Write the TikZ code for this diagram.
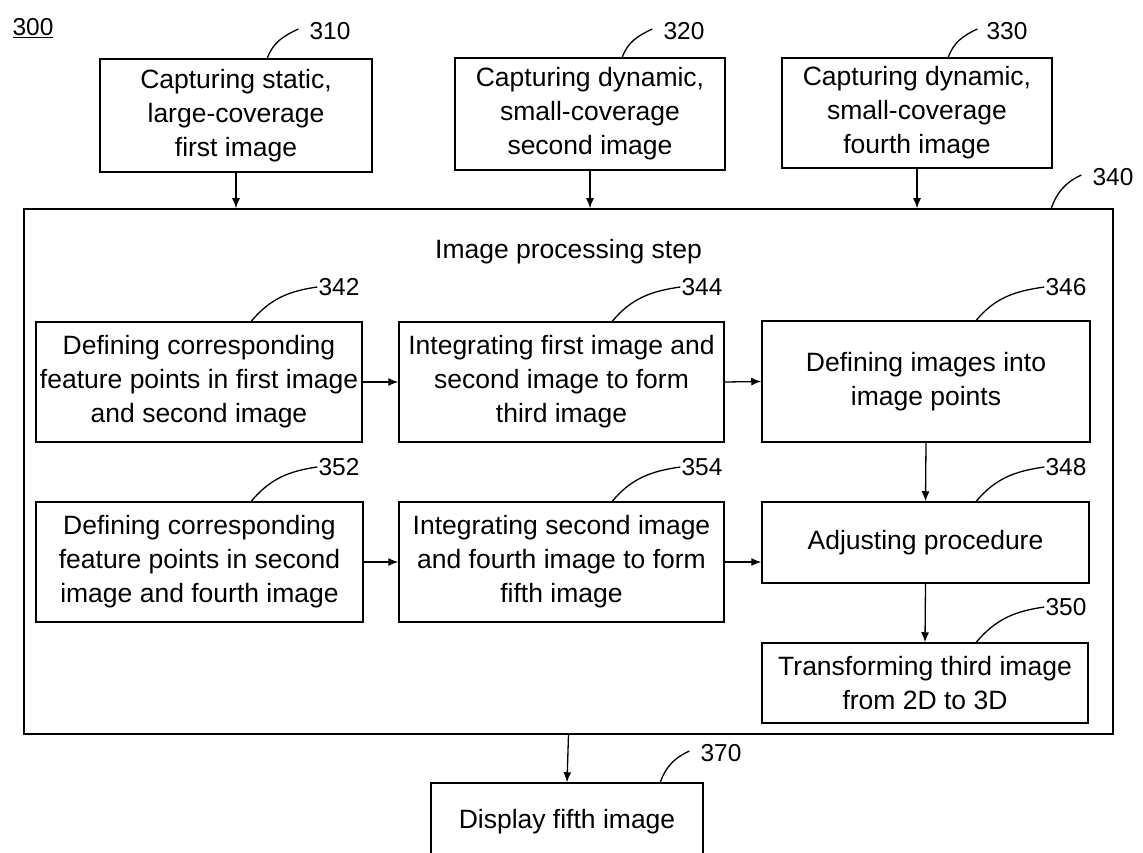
\documentclass[tikz,border=0pt]{standalone}
\usepackage{fontspec}
\setmainfont{Liberation Sans}
\usetikzlibrary{arrows.meta,calc}
\begin{document}
\begin{tikzpicture}[x=1pt,y=-1pt,
  box/.style={draw, line width=1.5pt, inner sep=0pt, align=center, font=\fontsize{26.5}{34}\selectfont},
  frame/.style={draw, line width=1.5pt, inner sep=0pt},
  lbl/.style={inner sep=1pt, font=\fontsize{24.5}{28}\selectfont},
  arr/.style={line width=1.3pt, -{Latex[length=10pt,width=8pt]}},
  lead/.style={line width=1.3pt}]
\useasboundingbox (0,0) rectangle (1143,853);
\clip (0,0) rectangle (1143,853);

% top boxes
\node[box, minimum width=272pt, minimum height=113pt] (n310) at (236,115.5) {Capturing static,\\large-coverage\\first image};
\node[box, minimum width=270pt, minimum height=112pt] (n320) at (590,114) {Capturing dynamic,\\small-coverage\\second image};
\node[box, minimum width=270pt, minimum height=110pt] (n330) at (917,113) {Capturing dynamic,\\small-coverage\\fourth image};

% big frame
\node[frame, minimum width=1089pt, minimum height=525pt] (n340) at (568.5,471.5) {};
\node[font=\fontsize{26.5}{34}\selectfont] (title) at (568.5,252) {Image processing step};

% inner boxes
\node[box, minimum width=326pt, minimum height=120pt] (n342) at (199,382) {Defining corresponding\\feature points in first image\\and second image};
\node[box, minimum width=325pt, minimum height=120pt] (n344) at (561.5,382) {Integrating first image and\\second image to form\\third image};
\node[box, minimum width=328pt, minimum height=121pt] (n346) at (926,381.5) {Defining images into\\image points};
\node[box, minimum width=327pt, minimum height=120pt] (n352) at (199.5,562) {Defining corresponding\\feature points in second\\image and fourth image};
\node[box, minimum width=325pt, minimum height=120pt] (n354) at (561.5,562) {Integrating second image\\and fourth image to form\\fifth image};
\node[box, minimum width=327pt, minimum height=81pt] (n348) at (925.5,542.5) {Adjusting procedure};
\node[box, minimum width=326pt, minimum height=80pt] (n350) at (925,683) {Transforming third image\\from 2D to 3D};

% bottom box
\node[box, minimum width=272pt, minimum height=78pt] (n370) at (567,822) {Display fifth image};

% arrows
\draw[arr] (n310.south) -- (n310.south |- n340.north);
\draw[arr] (n320.south) -- (n320.south |- n340.north);
\draw[arr] (n330.south) -- (n330.south |- n340.north);
\draw[arr] (n342.east) -- (n344.west);
\draw[arr] (n344.east) -- (n346.west);
\draw[arr] (n346.south) -- (n348.north);
\draw[arr] (n352.east) -- (n354.west);
\draw[arr] (n354.east) -- (n354.east -| n348.west);
\draw[arr] (n348.south) -- (n350.north);
\draw[arr] (n340.south) -- (n370.north);

% labels
\node[lbl] (l300) at (33,28) {\underline{300}};
\node[lbl] (l310) at (330,31) {310};
\node[lbl] (l320) at (684,31) {320};
\node[lbl] (l330) at (1007,31) {330};
\node[lbl] (l340) at (1113,177) {340};
\node[lbl] (l342) at (339,287) {342};
\node[lbl] (l344) at (702,287) {344};
\node[lbl] (l346) at (1066,287) {346};
\node[lbl] (l352) at (339,467) {352};
\node[lbl] (l354) at (702,467) {354};
\node[lbl] (l348) at (1066,467) {348};
\node[lbl] (l350) at (1066,607) {350};
\node[lbl] (l370) at (721,753) {370};

% leaders
\draw[lead] ($(n310.north west)+(168,0)$) to[out=70,in=205] ([xshift=-10pt,yshift=2pt]l310.west);
\draw[lead] ($(n320.north west)+(168,0)$) to[out=70,in=205] ([xshift=-10pt,yshift=2pt]l320.west);
\draw[lead] ($(n330.north west)+(167,0)$) to[out=70,in=205] ([xshift=-8pt,yshift=2pt]l330.west);
\draw[lead] ($(n340.north west)+(1028,0)$) to[out=70,in=205] ([xshift=-10pt,yshift=2pt]l340.west);
\draw[lead] ($(n342.north west)+(216,0)$) to[out=50,in=188] (l342.west);
\draw[lead] ($(n344.north west)+(214,0)$) to[out=50,in=188] (l344.west);
\draw[lead] ($(n346.north west)+(215,0)$) to[out=50,in=188] (l346.west);
\draw[lead] ($(n352.north west)+(216,0)$) to[out=50,in=188] (l352.west);
\draw[lead] ($(n354.north west)+(214,0)$) to[out=50,in=188] (l354.west);
\draw[lead] ($(n348.north west)+(215,0)$) to[out=50,in=188] (l348.west);
\draw[lead] ($(n350.north west)+(215,0)$) to[out=50,in=188] (l350.west);
\draw[lead] ($(n370.north west)+(230,0)$) to[out=70,in=205] ([xshift=-10pt,yshift=2pt]l370.west);
\end{tikzpicture}
\end{document}
